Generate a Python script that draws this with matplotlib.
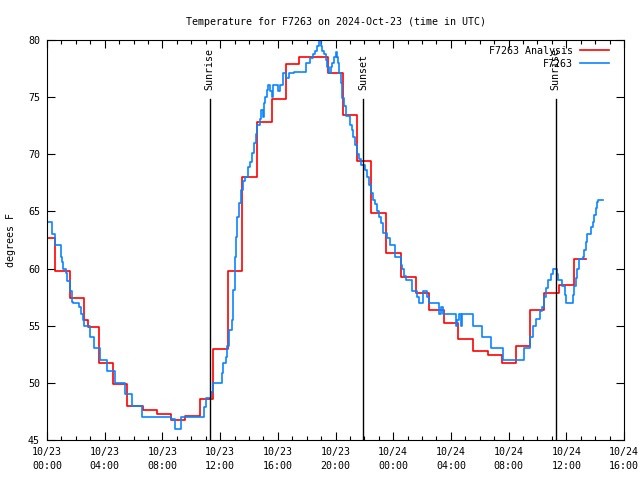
import matplotlib
matplotlib.use("Agg")
import matplotlib.pyplot as plt
from matplotlib.ticker import MultipleLocator, FixedLocator

plt.rcParams['font.family'] = ['DejaVu Sans Mono']
plt.rcParams['font.size'] = 7.2

# hours since 2024-10-23 00:00 UTC, value in deg F (step changes)
analysis_t = [0, 0.58, 1.6, 2.55, 2.86, 3.58, 4.58, 5.57, 6.63, 7.6, 8.57, 9.54,
              10.6, 11.53, 12.57, 13.5, 14.53, 15.6, 16.57, 17.5, 19.5, 20.5, 21.47,
              22.48, 23.5, 24.52, 25.56, 26.46, 27.52, 28.47, 29.53, 30.55, 31.56,
              32.5, 33.48, 34.47, 35.5, 36.55, 37.4]
analysis_v = [62.65, 59.76, 57.4, 55.47, 54.86, 51.7, 49.9, 47.95, 47.6, 47.25, 46.75, 47.07,
              48.56, 53.0, 59.8, 68.0, 72.8, 74.8, 77.9, 78.5, 77.1, 73.4, 69.4,
              64.86, 61.36, 59.3, 57.83, 56.37, 55.2, 53.8, 52.76, 52.46, 51.74,
              53.2, 56.35, 57.9, 58.6, 60.8, 60.8]

obs_t = [0, 0.32, 0.55, 0.95, 1.02, 1.13, 1.34, 1.41, 1.6, 1.73, 1.83, 2.24, 2.38, 2.47,
         2.59, 2.98, 3.28, 3.7, 4.14, 4.71, 5.4, 5.89, 6.6, 8.57, 8.9, 9.27, 10.9, 11.04,
         11.39, 11.53, 12.1, 12.2, 12.4, 12.5, 12.6, 12.8, 12.92, 13.01, 13.1, 13.19,
         13.31, 13.43, 13.57, 13.73, 13.96, 14.07, 14.23, 14.35, 14.49, 14.58, 14.77,
         14.86, 14.95, 15.04, 15.13, 15.23, 15.34, 15.46, 15.58, 15.69, 16.0, 16.15,
         16.34, 16.57, 16.8, 17.12, 17.95, 18.23, 18.46, 18.58, 18.74, 18.88, 18.97,
         19.06, 19.2, 19.34, 19.43, 19.53, 19.67, 19.76, 19.9, 20.01, 20.13, 20.17,
         20.27, 20.36, 20.45, 20.59, 20.73, 21.0, 21.12, 21.24, 21.35, 21.51, 21.65,
         21.79, 22.05, 22.16, 22.32, 22.48, 22.58, 22.71, 22.85, 22.99, 23.13, 23.32,
         23.6, 23.78, 24.12, 24.52, 24.63, 24.75, 24.87, 25.28, 25.32, 25.67, 25.77,
         26.05, 26.36, 26.46, 27.2, 27.3, 27.43, 28.35, 28.42, 28.56, 28.7, 28.75,
         29.51, 30.18, 30.76, 31.59, 33.09, 33.48, 33.71, 33.9, 34.18, 34.29, 34.47,
         34.57, 34.71, 34.94, 35.06, 35.34, 35.45, 35.68, 35.91, 35.98, 36.44, 36.55,
         36.67, 36.76, 36.88, 37.13, 37.23, 37.37, 37.41, 37.71, 37.83, 37.92, 38.04,
         38.15, 38.22, 38.52]
obs_v = [64.05, 63.0, 62.06, 61.04, 60.6, 60.0, 59.58, 58.9, 58.0, 57.1, 56.96, 56.67, 56.0, 55.5,
         55.0, 54.0, 53.05, 52.0, 51.04, 49.96, 49.0, 47.95, 46.99, 46.8, 45.96, 46.99, 47.9, 48.7,
         49.2, 49.96, 50.9, 51.7, 52.3, 53.2, 54.6, 55.5, 58.1, 61.0, 62.8, 64.5,
         65.7, 66.9, 67.7, 68.0, 68.9, 69.35, 70.1, 70.95, 71.8, 72.56, 73.1,
         73.87, 73.3, 74.46, 75.0, 75.6, 76.06, 75.5, 75.0, 76.06, 75.5, 76.06,
         77.1, 76.64, 77.1, 77.16, 78.0, 78.4, 78.78, 79.07, 79.5, 80.0, 79.5,
         79.07, 78.78, 78.25, 77.66, 77.15, 77.66, 78.0, 78.5, 78.95, 78.5, 77.96,
         77.08, 76.2, 74.9, 74.2, 73.35, 72.56, 72.1, 71.5, 70.8, 70.0, 69.56,
         69.1, 68.6, 68.0, 67.3, 66.58, 66.0, 65.65, 65.06, 64.5, 63.96, 63.1,
         62.65, 62.06, 61.04, 60.3, 60.0, 59.35, 59.0, 58.5, 58.0, 57.54, 56.96,
         58.0, 57.54, 57.0, 56.0, 56.66, 56.0, 55.0, 55.5, 56.0, 55.0, 56.0,
         55.0, 54.05, 53.02, 52.0, 53.02, 54.05, 55.0, 55.56, 56.3, 56.67, 57.54,
         58.27, 59.0, 59.5, 60.0, 59.5, 59.0, 58.47, 57.7, 56.96, 57.7, 58.47,
         59.15, 60.0, 60.8, 60.97, 61.6, 62.35, 63.0, 63.66, 64.1, 64.7, 65.27,
         65.85, 66.0, 66.0]

sun_t = [11.28, 21.93, 35.26]
sun_labels = ["Sunrise", "Sunset", "Sunrise"]

xtick_labels = ["10/23\n00:00", "10/23\n04:00", "10/23\n08:00", "10/23\n12:00",
                "10/23\n16:00", "10/23\n20:00", "10/24\n00:00", "10/24\n04:00",
                "10/24\n08:00", "10/24\n12:00", "10/24\n16:00"]

fig = plt.figure(figsize=(6.4, 4.8), dpi=100)
ax = fig.add_axes([47 / 640, 40 / 480, 577 / 640, 400 / 480])

ax.plot(analysis_t, analysis_v, drawstyle='steps-post', color='#ff0000', lw=1.2,
        label='F7263 Analysis')
ax.plot(obs_t, obs_v, drawstyle='steps-post', color='#0a84ff', lw=1.2, label='F7263')

for t, lab in zip(sun_t, sun_labels):
    ax.plot([t, t], [45, 74.8], color='black', lw=1)
    ax.text(t, 75.6, lab, rotation=90, ha='center', va='bottom')

ax.set_xlim(0, 40)
ax.set_ylim(45, 80)
ax.xaxis.set_major_locator(FixedLocator(range(0, 41, 4)))
ax.set_xticklabels(xtick_labels, linespacing=1.55)
ax.xaxis.set_minor_locator(MultipleLocator(1))
ax.yaxis.set_major_locator(MultipleLocator(5))
ax.tick_params(which='both', direction='in', top=True, right=True)
ax.tick_params(which='major', length=6, width=0.8, pad=5)
ax.tick_params(which='minor', length=3, width=0.8)

ax.set_title("Temperature for F7263 on 2024-Oct-23 (time in UTC)", fontsize=7.2, pad=11)
ax.set_ylabel("degrees F", labelpad=9)

ax.legend(loc='upper right', bbox_to_anchor=(0.974, 0.985), frameon=False,
          markerfirst=False, handlelength=2.9, borderaxespad=0, borderpad=0,
          labelspacing=0.3, handletextpad=0.7)

plt.savefig("out.png", dpi=100)
